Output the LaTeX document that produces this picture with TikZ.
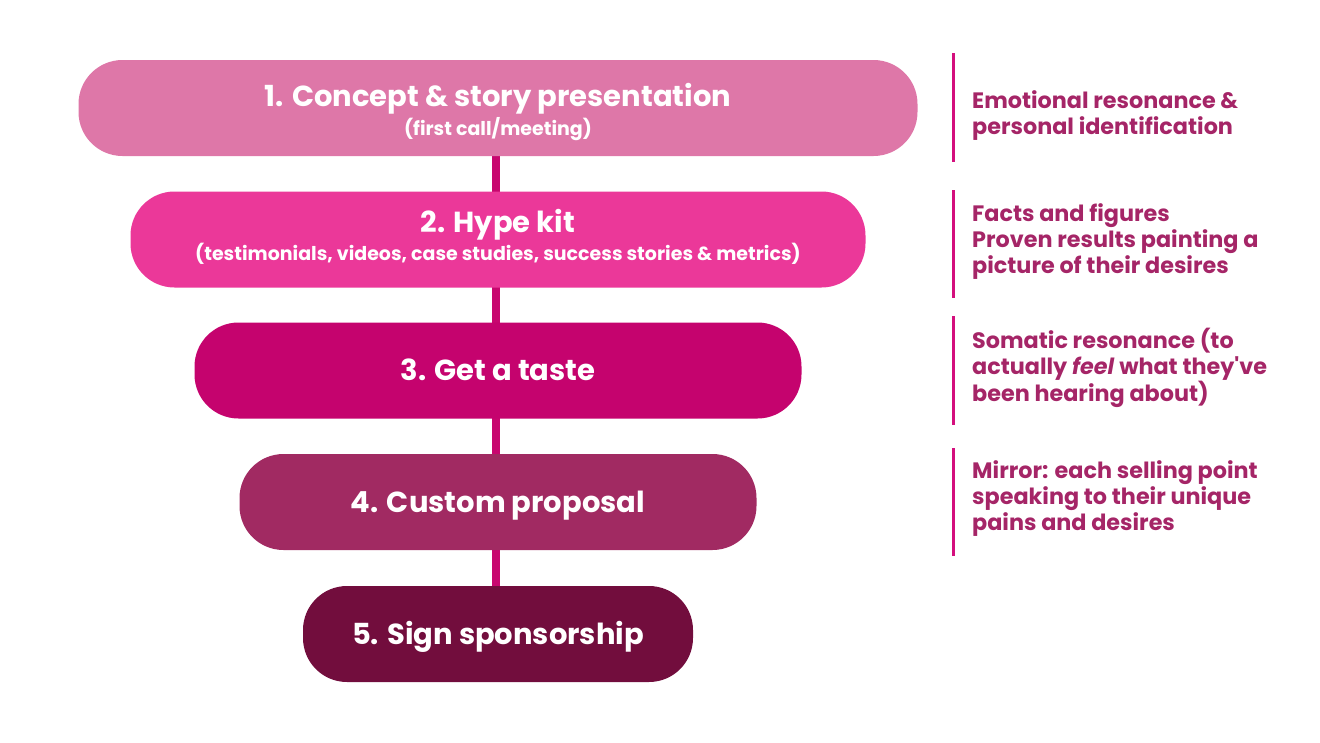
\documentclass[tikz,border=0pt]{standalone}
\usepackage{fontspec}
\setmainfont{Poppins}
\usepackage{tikz}
\usetikzlibrary{positioning}
\definecolor{stageA}{HTML}{DE77A8}
\definecolor{stageB}{HTML}{EB3899}
\definecolor{stageC}{HTML}{C5036E}
\definecolor{stageD}{HTML}{A12A62}
\definecolor{stageE}{HTML}{720D3D}
\definecolor{link}{HTML}{C8076F}
\definecolor{bar}{HTML}{D40F7D}
\definecolor{note}{HTML}{A52567}
\tikzset{
  stage/.style={rectangle, rounded corners=44pt, minimum height=96pt, inner sep=0pt,
    text height=20pt, text depth=0pt,
    text=white, align=center, font=\bfseries\fontsize{29}{32}\selectfont},
  headtext/.style={anchor=base, text=white, inner sep=0pt, font=\bfseries\fontsize{29}{32}\selectfont},
  subtext/.style={anchor=base, text=white, inner sep=0pt, font=\bfseries\fontsize{19}{22}\selectfont},
  linkline/.style={line width=8pt, draw=link},
  barline/.style={line width=3pt, draw=bar},
  notetext/.style={anchor=west, align=left, text=note, inner sep=0pt,
    font=\bfseries\fontsize{22.3}{26}\selectfont}
}
\begin{document}
\begin{tikzpicture}[x=1pt, y=-1pt]
  \useasboundingbox (0,0) rectangle (1320,742);

  % links behind the stages
  \coordinate (top) at (496,156);
  \coordinate (bot) at (496,586);
  \draw[linkline] (top) -- (bot);

  % stages
  \node[stage, fill=stageA, minimum width=839pt] (s1) at (498,108) {};
  \node[headtext] (t1) at (498,106) {1. Concept \& story presentation};
  \node[subtext] (u1) at (498,135) {(first call/meeting)};
  \node[stage, fill=stageB, minimum width=735pt] (s2) at (498,239.5) {};
  \node[headtext] (t2) at (498,232) {2. Hype kit};
  \node[subtext] (u2) at (498,260) {(testimonials, videos, case studies, success stories \& metrics)};
  \node[stage, fill=stageC, minimum width=607pt] (s3) at (498,370.5) {3. Get a taste};
  \node[stage, fill=stageD, minimum width=517pt] (s4) at (498,502) {4. Custom proposal};
  \node[stage, fill=stageE, minimum width=390pt] (s5) at (498,634) {5. Sign sponsorship};

  % notes
  \draw[barline] (953,53) -- (953,162);
  \draw[barline] (953,190) -- (953,298);
  \draw[barline] (953,316) -- (953,425);
  \draw[barline] (953,448) -- (953,556);

  \node[notetext] (n1) at (972,115.5) {Emotional resonance \&\\personal identification};
  \node[notetext] (n2) at (972,242) {Facts and figures\\Proven results painting a\\picture of their desires};
  \node[notetext] (n3) at (972,368) {Somatic resonance (to\\actually \textit{feel} what they\textquotesingle ve\\been hearing about)};
  \node[notetext] (n4) at (972,499) {Mirror: each selling point\\speaking to their unique\\pains and desires};
\end{tikzpicture}
\end{document}
